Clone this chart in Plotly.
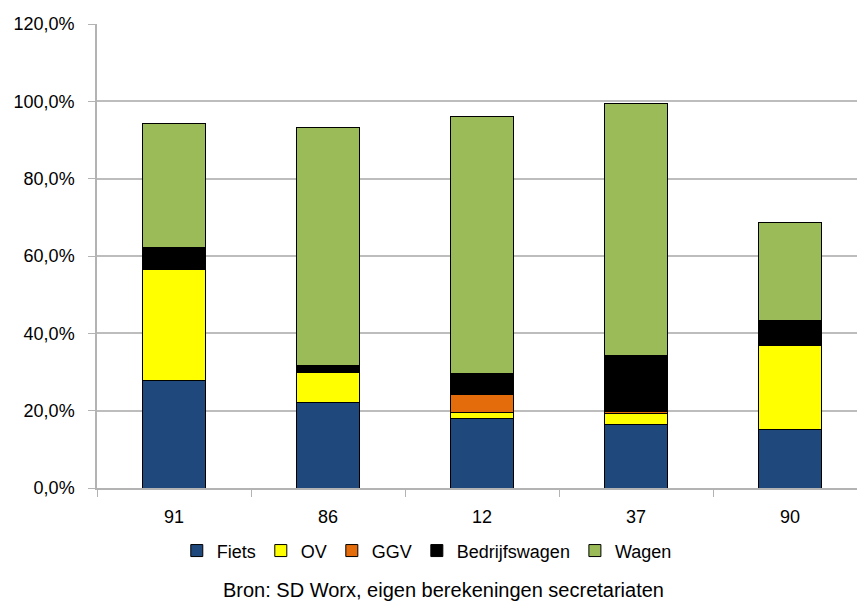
import plotly.graph_objects as go

categories = ["91", "86", "12", "37", "90"]
fiets = [27.8, 22.1, 18.0, 16.5, 15.1]
ov = [28.6, 7.8, 1.5, 2.8, 21.7]
ggv = [0.0, 0.0, 4.6, 0.5, 0.0]
bedrijfswagen = [5.7, 1.7, 5.6, 14.4, 6.6]
wagen = [32.2, 61.7, 66.4, 65.3, 25.3]

y_tickvals = [0, 20, 40, 60, 80, 100, 120]
y_ticktext = ["0,0%", "20,0%", "40,0%", "60,0%", "80,0%", "100,0%", "120,0%"]
source_text = "Bron: SD Worx, eigen berekeningen secretariaten"

series = [
    ("Fiets", fiets, "#1F497D"),
    ("OV", ov, "#FFFF00"),
    ("GGV", ggv, "#E46C0A"),
    ("Bedrijfswagen", bedrijfswagen, "#000000"),
    ("Wagen", wagen, "#9BBB59"),
]

fig = go.Figure()
for name, vals, color in series:
    fig.add_trace(go.Bar(
        x=categories, y=vals, name=name,
        marker=dict(color=color, line=dict(color="#000000", width=1)),
        width=0.405,
    ))

FAM = "Liberation Sans, Arial, sans-serif"
font = dict(family=FAM, size=18, color="#000000")

fig.update_layout(
    barmode="stack",
    width=857, height=606,
    margin=dict(l=97, r=0, t=24, b=118),
    paper_bgcolor="white", plot_bgcolor="white",
    font=font,
    showlegend=True,
    legend=dict(
        orientation="h", xref="container", yref="container",
        x=0.498, xanchor="center", y=0.091, yanchor="middle",
        traceorder="normal",
        font=dict(family=FAM, size=18, color="#000000"),
        itemwidth=30, tracegroupgap=0,
    ),
    xaxis=dict(
        type="category", range=[-0.5, 4.435],
        showline=True, linecolor="#b3b3b3", linewidth=1.5,
        ticks="outside", tickson="boundaries", ticklen=7, tickcolor="#b3b3b3",
        showgrid=False, tickfont=font, ticklabelstandoff=12,
    ),
    yaxis=dict(
        range=[0, 120], tickvals=y_tickvals, ticktext=y_ticktext,
        showline=True, linecolor="#b3b3b3", linewidth=1.5,
        ticks="outside", ticklen=7, tickcolor="#b3b3b3",
        showgrid=True, gridcolor="#bdbdbd", gridwidth=1.5,
        zeroline=False, tickfont=font, ticklabelstandoff=10,
    ),
    annotations=[dict(
        text=source_text, xref="paper", yref="paper",
        x=(443 - 97) / 760, y=-0.22, xanchor="center", yanchor="middle",
        showarrow=False, font=dict(family=FAM, size=20, color="#000000"),
    )],
)

fig.write_html("out.html", config={"displayModeBar": False},
               post_script="document.body.style.margin='0';")
